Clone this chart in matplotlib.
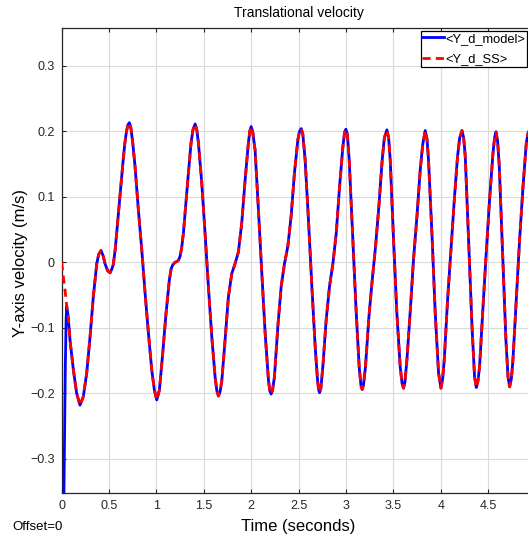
import matplotlib
matplotlib.use("Agg")
import matplotlib.pyplot as plt

plt.rcParams['font.family'] = ['Liberation Sans', 'DejaVu Sans']

# --- data ---
t_model_start = [0.000, 0.020, 0.038, 0.047]
v_model_start = [-0.900, -0.400, -0.160, -0.085]

t_ss_start = [0.000, 0.017, 0.035]
v_ss_start = [0.000, -0.022, -0.042]

t_common = [
    0.053, 0.070, 0.088, 0.123, 0.158, 0.193, 0.228, 0.264, 0.299, 0.334,
    0.370, 0.390, 0.415, 0.437, 0.457, 0.485, 0.510, 0.530, 0.545, 0.565,
    0.585, 0.605, 0.625, 0.645, 0.665, 0.685, 0.700, 0.714, 0.730, 0.750,
    0.774, 0.809, 0.845, 0.880, 0.915, 0.950, 0.978, 1.003, 1.031, 1.066,
    1.101, 1.136, 1.155, 1.172, 1.195, 1.214, 1.232, 1.249, 1.266, 1.284,
    1.313, 1.337, 1.365, 1.385, 1.408, 1.425, 1.443, 1.478, 1.513, 1.548,
    1.584, 1.619, 1.637, 1.654, 1.672, 1.690, 1.724, 1.759, 1.795, 1.830,
    1.865, 1.900, 1.936, 1.970, 1.985, 1.999, 2.015, 2.041, 2.076, 2.112,
    2.147, 2.182, 2.196, 2.210, 2.225, 2.245, 2.281, 2.316, 2.351, 2.386,
    2.421, 2.456, 2.492, 2.510, 2.528, 2.545, 2.569, 2.604, 2.640, 2.675,
    2.700, 2.712, 2.721, 2.735, 2.756, 2.791, 2.826, 2.862, 2.897, 2.932,
    2.967, 2.985, 2.999, 3.015, 3.034, 3.069, 3.105, 3.139, 3.158, 3.171,
    3.185, 3.206, 3.242, 3.277, 3.312, 3.347, 3.382, 3.405, 3.432, 3.450,
    3.467, 3.502, 3.537, 3.572, 3.592, 3.607, 3.622, 3.643, 3.678, 3.713,
    3.749, 3.783, 3.810, 3.836, 3.855, 3.871, 3.907, 3.942, 3.977, 4.002,
    4.020, 4.037, 4.072, 4.108, 4.143, 4.177, 4.200, 4.224, 4.242, 4.259,
    4.294, 4.330, 4.357, 4.375, 4.392, 4.410, 4.446, 4.480, 4.515, 4.551,
    4.568, 4.583, 4.600, 4.618, 4.653, 4.688, 4.710, 4.727, 4.745, 4.762,
    4.797, 4.832, 4.868, 4.903, 4.924, 4.940, 4.960, 4.980, 5.000,
]
v_common = [
    -0.067, -0.085, -0.119, -0.164, -0.200, -0.218, -0.205, -0.169, -0.114, -0.052,
    -0.002, 0.012, 0.018, 0.010, -0.002, -0.013, -0.016, -0.010, -0.003, 0.020,
    0.052, 0.085, 0.118, 0.150, 0.180, 0.201, 0.210, 0.213, 0.205, 0.182,
    0.146, 0.080, 0.019, -0.047, -0.108, -0.164, -0.195, -0.210, -0.195, -0.139,
    -0.078, -0.027, -0.010, -0.004, 0.000, 0.001, 0.003, 0.009, 0.022, 0.044,
    0.095, 0.136, 0.182, 0.202, 0.211, 0.203, 0.182, 0.121, 0.044, -0.037,
    -0.114, -0.175, -0.196, -0.204, -0.197, -0.180, -0.119, -0.053, -0.017, -0.002,
    0.016, 0.060, 0.126, 0.182, 0.200, 0.207, 0.200, 0.171, 0.080, -0.017,
    -0.108, -0.180, -0.196, -0.201, -0.195, -0.175, -0.098, -0.037, -0.002, 0.024,
    0.070, 0.136, 0.187, 0.200, 0.204, 0.195, 0.156, 0.065, -0.037, -0.129,
    -0.180, -0.195, -0.199, -0.192, -0.159, -0.088, -0.037, -0.002, 0.044, 0.115,
    0.176, 0.198, 0.203, 0.195, 0.156, 0.044, -0.068, -0.159, -0.188, -0.194,
    -0.187, -0.159, -0.083, -0.027, 0.024, 0.085, 0.156, 0.190, 0.202, 0.190,
    0.156, 0.034, -0.078, -0.159, -0.185, -0.192, -0.183, -0.149, -0.075, 0.005,
    0.070, 0.140, 0.180, 0.201, 0.188, 0.156, 0.044, -0.078, -0.169, -0.192,
    -0.178, -0.149, -0.058, 0.019, 0.095, 0.161, 0.190, 0.201, 0.190, 0.161,
    0.034, -0.098, -0.175, -0.191, -0.182, -0.159, -0.068, 0.014, 0.095, 0.166,
    0.190, 0.199, 0.185, 0.146, 0.014, -0.119, -0.175, -0.190, -0.178, -0.149,
    -0.058, 0.034, 0.115, 0.182, 0.199, 0.200, 0.180, 0.130, 0.060,
]

x_ticks = [0, 0.5, 1, 1.5, 2, 2.5, 3, 3.5, 4, 4.5]
x_tick_labels = ['0', '0.5', '1', '1.5', '2', '2.5', '3', '3.5', '4', '4.5']
y_ticks = [-0.3, -0.2, -0.1, 0, 0.1, 0.2, 0.3]
y_tick_labels = ['\u22120.3', '\u22120.2', '\u22120.1', '0', '0.1', '0.2', '0.3']

series_names = ['<Y_d_model>', '<Y_d_SS>']

t_model = t_model_start + t_common
v_model = v_model_start + v_common
t_ss = t_ss_start + t_common
v_ss = v_ss_start + v_common

W, H = 528, 539
fig = plt.figure(figsize=(W / 100, H / 100), dpi=100)
fig.patch.set_facecolor('white')

left, right, top, bottom = 61.7, 535.5, 28.3, 493.0
ax = fig.add_axes([left / W, 1 - bottom / H, (right - left) / W, (bottom - top) / H])

frame_col = '#262626'
ax.plot(t_model, v_model, color=(0, 0, 1), lw=2.0, label=series_names[0], zorder=3)
ax.plot(t_ss, v_ss, color=(1, 0, 0), lw=2.0, linestyle=(0, (2.9, 1.9)),
        label=series_names[1], zorder=4)

ax.set_xlim(0, 5)
ax.set_ylim(-0.352, 0.357)
ax.set_xticks(x_ticks)
ax.set_xticklabels(x_tick_labels)
ax.set_yticks(y_ticks)
ax.set_yticklabels(y_tick_labels)

ax.grid(True, color='#dadada', lw=0.8)
ax.set_axisbelow(True)
for s in ax.spines.values():
    s.set_color(frame_col)
    s.set_linewidth(0.9)
ax.tick_params(direction='in', length=3, width=0.8, colors=frame_col,
               labelsize=9, labelcolor='#262626', top=True, right=True, pad=5)

ax.set_title('Translational velocity', fontsize=10, color='black', pad=8)
ax.set_xlabel('Time (seconds)', fontsize=12, color='black')
ax.set_ylabel('Y-axis velocity (m/s)', fontsize=12, color='black')
ax.xaxis.set_label_coords(0.5, -0.055)
ax.yaxis.set_label_coords(-0.071, 0.496)

leg = ax.legend(loc='upper right', bbox_to_anchor=(527 / W, 1 - 31 / H),
                bbox_transform=fig.transFigure, borderaxespad=0, fontsize=9.3,
                handlelength=1.7, handletextpad=0.12, borderpad=0.12,
                labelspacing=0.65, fancybox=False, framealpha=1,
                edgecolor='black')
leg.get_frame().set_linewidth(0.9)

fig.text(12 / W, 1 - 527 / H, 'Offset=0', fontsize=9.5, va='center', ha='left')

fig.savefig('out.png', dpi=100)
